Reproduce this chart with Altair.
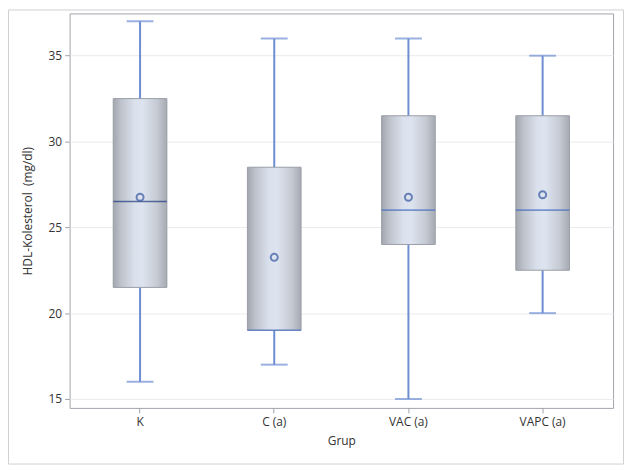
import altair as alt
import pandas as pd

groups = ["K", "C (a)", "VAC (a)", "VAPC (a)"]
mins = [16, 17, 15, 20]
q1 = [21.5, 19, 24, 22.5]
medians = [26.5, 19, 26, 26]
q3 = [32.5, 28.5, 31.5, 31.5]
maxs = [37, 36, 36, 35]
means = [26.75, 23.25, 26.75, 26.9]

df = pd.DataFrame({"grp": groups, "lo": mins, "q1": q1, "med": medians,
                   "q3": q3, "hi": maxs, "mean": means})

FONT = "Open Sans"
x = alt.X("grp:N", sort=groups, title="Grup",
          scale=alt.Scale(paddingInner=0, paddingOuter=0.025),
          axis=alt.Axis(labelAngle=0, grid=False, labelPadding=4, titlePadding=8))
yscale = alt.Scale(domain=[14.48, 37.46], nice=False, zero=False)
y_axis = alt.Axis(values=[15, 20, 25, 30, 35], grid=True, gridColor="#EBEBEB",
                  labelPadding=3, titlePadding=14)

base = alt.Chart(df)

whisk = base.mark_rule(color="#6E8ED4", strokeWidth=2).encode(
    x=x, y=alt.Y("lo:Q", scale=yscale, axis=y_axis, title="HDL-Kolesterol\u00a0 (mg/dl)"),
    y2="hi:Q")

caps_lo = base.mark_tick(color="#6E8ED4", size=27, thickness=2).encode(
    x=x, y=alt.Y("lo:Q", scale=yscale))
caps_hi = base.mark_tick(color="#6E8ED4", size=27, thickness=2).encode(
    x=x, y=alt.Y("hi:Q", scale=yscale))

grad = alt.Gradient(
    gradient="linear", x1=0, x2=1, y1=0, y2=0,
    stops=[alt.GradientStop(color="#A2A6AE", offset=0),
           alt.GradientStop(color="#BEC3CC", offset=0.15),
           alt.GradientStop(color="#DAE1EC", offset=0.4),
           alt.GradientStop(color="#DDE4EF", offset=0.55),
           alt.GradientStop(color="#C5CAD3", offset=0.82),
           alt.GradientStop(color="#A6AAB2", offset=1)])

box = base.mark_bar(color=grad, stroke="#9A9EA6", strokeWidth=1, width=54).encode(
    x=x, y=alt.Y("q1:Q", scale=yscale), y2="q3:Q")

med = base.mark_tick(size=54, thickness=1.6).encode(
    x=x, y=alt.Y("med:Q", scale=yscale),
    color=alt.condition(alt.datum.grp == "K", alt.value("#1E3A80"), alt.value("#4A70C6")))

mean = base.mark_point(shape="circle", filled=False, size=50, strokeWidth=2,
                       color="#3556A0").encode(
    x=x, y=alt.Y("mean:Q", scale=yscale))

border = alt.Chart(pd.DataFrame({"a": [0]})).mark_rect(
    fill=None, stroke="#D0D0D0", strokeWidth=1).encode(
    x=alt.value(-61.5), x2=alt.value(557.5), y=alt.value(-3.5), y2=alt.value(453.5))

chart = alt.layer(border, whisk, caps_lo, caps_hi, box, med, mean).properties(
    width=547, height=397,
    autosize=alt.AutoSizeParams(type="none"),
    padding={"left": 62, "top": 4, "right": 12, "bottom": 58},
).configure_view(stroke="#A0A4AA", strokeWidth=1).configure_axis(
    domain=False, tickColor="#A0A4AA", tickSize=5,
    labelFont=FONT, labelFontSize=12, labelColor="#333333",
    titleFont=FONT, titleFontSize=12, titleFontWeight="normal", titleColor="#333333",
)

chart.save("out.html", embed_options={"renderer": "svg", "actions": False})
